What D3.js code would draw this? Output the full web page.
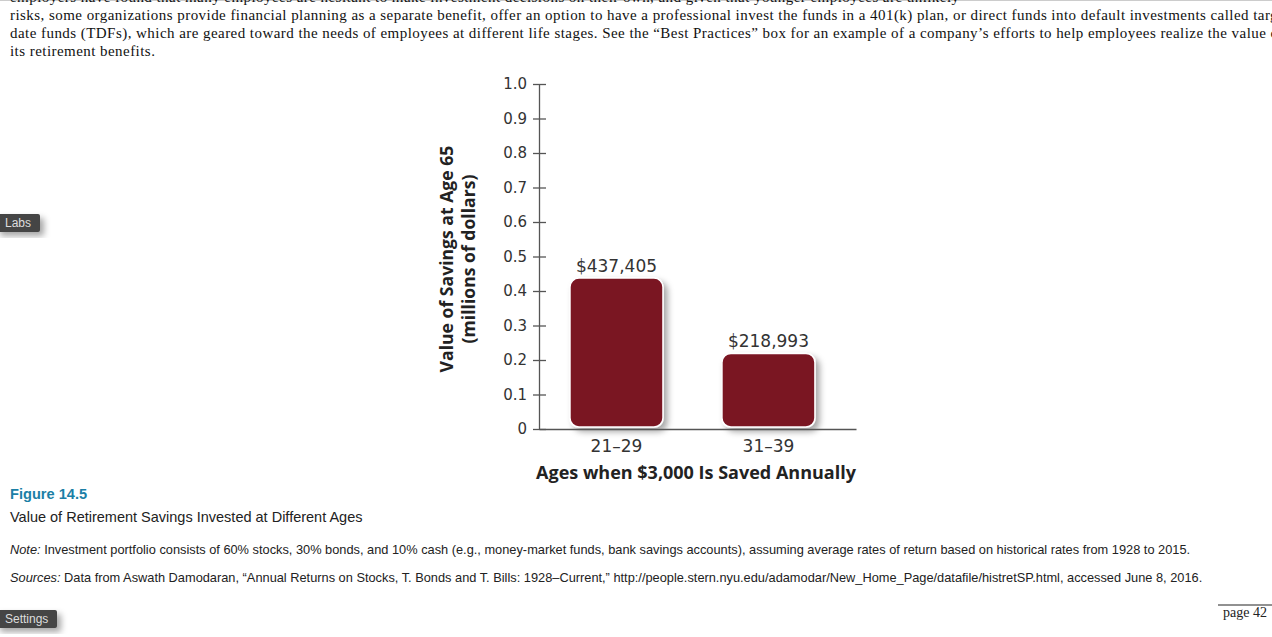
<!DOCTYPE html>
<html>
<head>
<meta charset="utf-8">
<script src="https://cdn.jsdelivr.net/npm/d3@7"></script>
<style>
  body { margin: 0; background: #fff; overflow: hidden; }
  svg { display: block; }
</style>
</head>
<body>
<div id="chart"></div>
<script>
// data
const ageGroups = ["21–29", "31–39"];
const savings = [0.437405, 0.218993];
const savingsLabels = ["$437,405", "$218,993"];
const yTicks = [0, 0.1, 0.2, 0.3, 0.4, 0.5, 0.6, 0.7, 0.8, 0.9, 1.0];

const bodyLines = [
  "employers have found that many employees are hesitant to make investment decisions on their own, and given that younger employees are unlikely",
  "risks, some organizations provide financial planning as a separate benefit, offer an option to have a professional invest the funds in a 401(k) plan, or direct funds into default investments called target",
  "date funds (TDFs), which are geared toward the needs of employees at different life stages. See the \u201CBest Practices\u201D box for an example of a company\u2019s efforts to help employees realize the value of",
  "its retirement benefits."
];

const W = 1272, H = 637;
const svg = d3.select("#chart").append("svg")
    .attr("width", W)
    .attr("height", H);

const defs = svg.append("defs");
const shadow = defs.append("filter").attr("id", "shadow")
    .attr("x", "-20%").attr("y", "-20%").attr("width", "150%").attr("height", "150%");
shadow.append("feDropShadow")
    .attr("dx", 4).attr("dy", 4).attr("stdDeviation", 3)
    .attr("flood-color", "#000").attr("flood-opacity", 0.35);

// thin frame line at the top of the page grab
svg.append("line")
    .attr("x1", 0).attr("x2", W)
    .attr("y1", 0.5).attr("y2", 0.5)
    .attr("stroke", "#ccc");

// body text above the figure (runs off the right edge, as in the page grab)
svg.append("g").selectAll("text")
    .data(bodyLines)
    .join("text")
    .attr("x", 10)
    .attr("y", (d, i) => 2 + i * 18)
    .attr("font-family", "'Liberation Serif', 'Times New Roman', serif")
    .attr("font-size", "15px")
    .attr("letter-spacing", "0.45px")
    .attr("fill", "#111")
    .text(d => d);

// chart
const x = d3.scaleBand()
    .domain(ageGroups)
    .range([539, 856])
    .paddingInner(0.388)
    .paddingOuter(0.237)
    .align(0.43);

const y = d3.scaleLinear()
    .domain([0, 1])
    .range([429, 84]);

const chartFont = "'DejaVu Sans', sans-serif";
const titleFont = "'Open Sans', sans-serif";

// bars
svg.append("g").selectAll("rect")
    .data(savings)
    .join("rect")
    .attr("x", (d, i) => x(ageGroups[i]))
    .attr("y", d => y(d))
    .attr("width", x.bandwidth())
    .attr("height", d => y(0) - 2 - y(d))
    .attr("rx", 9)
    .attr("fill", "#7a1223")
    .attr("stroke", "#fff")
    .attr("stroke-width", 1.5)
    .attr("filter", "url(#shadow)");

// value labels
svg.append("g").selectAll("text")
    .data(savings)
    .join("text")
    .attr("x", (d, i) => x(ageGroups[i]) + x.bandwidth() / 2)
    .attr("y", d => y(d) - 6)
    .attr("text-anchor", "middle")
    .attr("font-family", chartFont)
    .attr("font-size", "17px")
    .attr("fill", "#333")
    .text((d, i) => savingsLabels[i]);

// y axis
const yAxis = svg.append("g")
    .attr("transform", "translate(539,0)")
    .call(d3.axisLeft(y).tickValues(yTicks).tickSize(0)
        .tickFormat(d => d === 0 ? "0" : d3.format(".1f")(d)));
yAxis.select(".domain").attr("stroke", "#555").attr("stroke-width", 1.3);
yAxis.selectAll(".tick").append("line")
    .attr("x1", -6).attr("x2", 7)
    .attr("stroke", "#555").attr("stroke-width", 1.3);
yAxis.selectAll(".tick text")
    .attr("x", -12)
    .attr("font-family", chartFont)
    .attr("font-size", "15px")
    .attr("fill", "#333");

// x axis
const xAxis = svg.append("g")
    .attr("transform", `translate(0,${y(0)})`)
    .call(d3.axisBottom(x).tickSize(0).tickSizeOuter(0));
xAxis.select(".domain").attr("stroke", "#555").attr("stroke-width", 1.3);
xAxis.selectAll(".tick text")
    .attr("dy", 0)
    .attr("y", 23)
    .attr("font-family", chartFont)
    .attr("font-size", "17px")
    .attr("fill", "#333");

// axis titles
svg.append("text")
    .attr("x", 696)
    .attr("y", 479)
    .attr("text-anchor", "middle")
    .attr("font-family", titleFont)
    .attr("font-size", "18px")
    .attr("font-weight", "bold")
    .attr("fill", "#222")
    .text("Ages when $3,000 Is Saved Annually");

const yTitle = svg.append("text")
    .attr("transform", "translate(453,259) rotate(-90)")
    .attr("text-anchor", "middle")
    .attr("font-family", titleFont)
    .attr("font-size", "17.6px")
    .attr("font-weight", "bold")
    .attr("fill", "#222");
yTitle.append("tspan").attr("x", 0).attr("y", 0).text("Value of Savings at Age 65");
yTitle.append("tspan").attr("x", 0).attr("y", 22).text("(millions of dollars)");

// caption
const capFont = "'Liberation Sans', Arial, sans-serif";
svg.append("text")
    .attr("x", 10).attr("y", 499)
    .attr("font-family", capFont)
    .attr("font-size", "14.6px")
    .attr("font-weight", "bold")
    .attr("fill", "#1b7fa6")
    .text("Figure 14.5");
svg.append("text")
    .attr("x", 10).attr("y", 522)
    .attr("font-family", capFont)
    .attr("font-size", "14.5px")
    .attr("fill", "#222")
    .text("Value of Retirement Savings Invested at Different Ages");

const note = svg.append("text")
    .attr("x", 10).attr("y", 554)
    .attr("font-family", capFont)
    .attr("font-size", "12.8px")
    .attr("fill", "#222");
note.append("tspan").attr("font-style", "italic").text("Note:");
note.append("tspan").text(" Investment portfolio consists of 60% stocks, 30% bonds, and 10% cash (e.g., money-market funds, bank savings accounts), assuming average rates of return based on historical rates from 1928 to 2015.");

const src = svg.append("text")
    .attr("x", 10).attr("y", 582)
    .attr("font-family", capFont)
    .attr("font-size", "12.8px")
    .attr("fill", "#222");
src.append("tspan").attr("font-style", "italic").text("Sources:");
src.append("tspan").text(" Data from Aswath Damodaran, \u201CAnnual Returns on Stocks, T. Bonds and T. Bills: 1928\u2013Current,\u201D http://people.stern.nyu.edu/adamodar/New_Home_Page/datafile/histretSP.html, accessed June 8, 2016.");

// page marker
svg.append("line")
    .attr("x1", 1218).attr("x2", 1272)
    .attr("y1", 605).attr("y2", 605)
    .attr("stroke", "#222").attr("stroke-width", 1);
svg.append("text")
    .attr("x", 1223).attr("y", 617)
    .attr("font-family", "'Liberation Serif', serif")
    .attr("font-size", "14px")
    .attr("fill", "#222")
    .text("page 42");

// side buttons
function sideButton(label, top, width) {
  const g = svg.append("g");
  g.append("rect")
      .attr("x", -4).attr("y", top)
      .attr("width", width + 4).attr("height", 18)
      .attr("rx", 2)
      .attr("fill", "#444")
      .attr("filter", "url(#shadow)");
  g.append("text")
      .attr("x", 5).attr("y", top + 13)
      .attr("font-family", capFont)
      .attr("font-size", "12px")
      .attr("fill", "#ddd")
      .text(label);
}
sideButton("Labs", 214, 40);
sideButton("Settings", 610, 57);
</script>
</body>
</html>
